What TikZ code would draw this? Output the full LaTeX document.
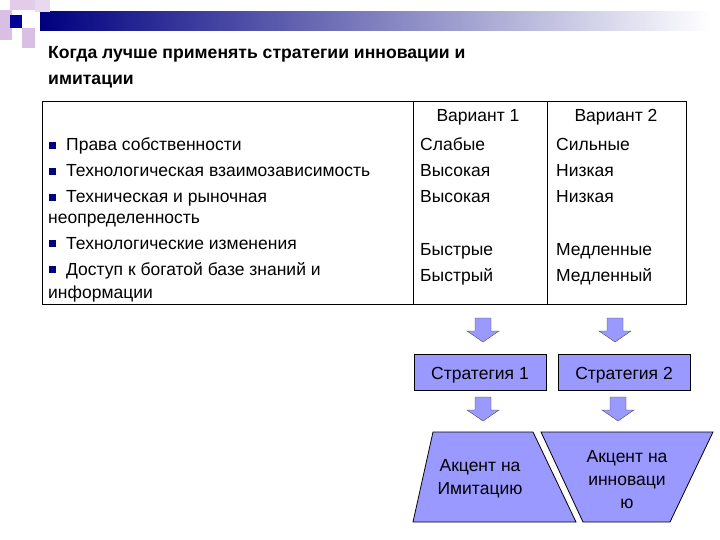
\documentclass[tikz,border=0pt]{standalone}
\usepackage{fontspec}
\setmainfont{Liberation Sans}
\definecolor{peri}{RGB}{153,153,255}
\begin{document}
\begin{tikzpicture}[x=1pt,y=-1pt,
  txt/.style={inner sep=0pt,anchor=base west,font=\fontsize{17.5}{20}\selectfont},
  ctxt/.style={inner sep=0pt,anchor=base,font=\fontsize{17.5}{20}\selectfont},
  blu/.style={fill=peri,draw=black,thick},
  arr/.style={fill=peri,draw=black!70,thin}]
\useasboundingbox (0,0) rectangle (720,540);
% decoration
\shade[left color=blue!50!black, right color=white] (40,12) rectangle (710,31);
\fill[blue!15!violet!20!white] (10,0) rectangle (35,10);
\fill[blue!15!violet!25!white] (0,10) rectangle (12,40);
\fill[blue!15!violet!25!white] (22,28) rectangle (35,48);
\fill[blue!15!violet!15!white] (35,0) rectangle (50,12);
\fill[blue!60!black] (10,15) rectangle (22,28);
% title
\node[inner sep=0pt,anchor=base west,font=\bfseries\fontsize{17.6}{20}\selectfont] (t1) at (48,59) {Когда лучше применять стратегии инновации и};
\node[inner sep=0pt,anchor=base west,font=\bfseries\fontsize{17.6}{20}\selectfont] (t2) at (48,85) {имитации};
% table
\draw[thick] (42,101) rectangle (686,304);
\draw[thin] (413,101) -- (413,304) (547,101) -- (547,304);
\node[ctxt] (h1) at (478,122) {Вариант 1};
\node[ctxt] (h2) at (616,122) {Вариант 2};
\foreach \y in {151,177,203,249,275}{\fill[blue!50!black] (49,\y-9) rectangle (56,\y-2);}
\node[txt] (r1) at (66,151) {Права собственности};
\node[txt] (r2) at (66,177) {Технологическая взаимозависимость};
\node[txt] (r3) at (66,203) {Техническая и рыночная};
\node[txt] (r3b) at (48,224) {неопределенность};
\node[txt] (r4) at (66,249) {Технологические изменения};
\node[txt] (r5) at (66,275) {Доступ к богатой базе знаний и};
\node[txt] (r5b) at (48,298) {информации};
\node[txt] (a1) at (420,151) {Слабые};
\node[txt] (a2) at (420,177) {Высокая};
\node[txt] (a3) at (420,203) {Высокая};
\node[txt] (a4) at (420,255) {Быстрые};
\node[txt] (a5) at (420,281) {Быстрый};
\node[txt] (b1) at (556,151) {Сильные};
\node[txt] (b2) at (556,177) {Низкая};
\node[txt] (b3) at (556,203) {Низкая};
\node[txt] (b4) at (556,255) {Медленные};
\node[txt] (b5) at (556,281) {Медленный};
% arrows
\foreach \cx/\ya in {483/318,615/318,483/397,618/397}{
  \draw[arr] (\cx-8,\ya) -- (\cx+8,\ya) -- (\cx+8,\ya+13) -- (\cx+16,\ya+13) -- (\cx,\ya+24) -- (\cx-16,\ya+13) -- (\cx-8,\ya+13) -- cycle;}
% strategy boxes
\draw[blu] (414,354) rectangle (546,390);
\node[ctxt] (s1) at (480,379) {Стратегия 1};
\draw[blu] (558,354) rectangle (690,390);
\node[ctxt] (s2) at (624,379) {Стратегия 2};
% trapezoids
\draw[blu] (433,432) -- (533,432) -- (576,522) -- (413,522) -- cycle;
\node[ctxt] (p1) at (480,471) {Акцент на};
\node[ctxt] (p1b) at (480,494) {Имитацию};
\draw[blu] (541,432) -- (713,432) -- (670,522) -- (583,522) -- cycle;
\node[ctxt] (p2) at (627,462) {Акцент на};
\node[ctxt] (p2b) at (627,485) {инноваци};
\node[ctxt] (p2c) at (627,508) {ю};
\end{tikzpicture}
\end{document}
